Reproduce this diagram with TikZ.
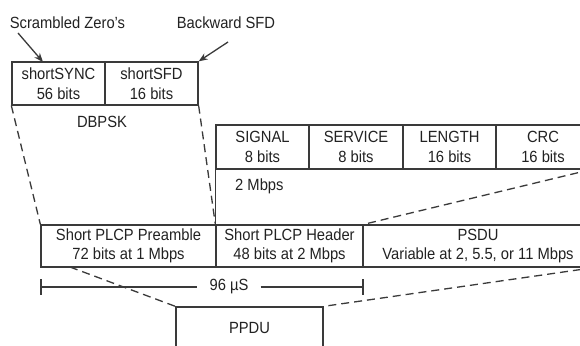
\documentclass[tikz,border=0pt]{standalone}
\usepackage{fontspec}
\setmainfont{Liberation Sans}[FakeStretch=0.91]
\usetikzlibrary{arrows.meta}
\definecolor{trait}{HTML}{3A3A3A}
\definecolor{texte}{HTML}{222222}
\begin{document}
\begin{tikzpicture}[x=1pt,y=-1pt,
    cell/.style={draw=trait, line width=1.3pt, minimum height=43pt, inner sep=0pt,
      align=center, text=texte, font=\fontsize{16.2}{19.5}\selectfont},
    lbl/.style={text=texte, font=\fontsize{16.2}{18}\selectfont},
    ligne/.style={draw=trait, line width=1.3pt},
    pointille/.style={ligne, dash pattern=on 8pt off 5pt},
    fleche/.style={ligne, -{Stealth[length=9pt,width=7pt]}}]
        % Cadre
        \useasboundingbox (0,0) rectangle (580,345);
        \fill[white] (0,0) rectangle (580,345);
        \clip (0,0) rectangle (580,345);
        % Preambule court
        \node[cell, minimum width=93pt] (sync) at (58.5,83.5) {shortSYNC\\56 bits};
        \node[cell, minimum width=93pt] (sfd) at (151.5,83.5) {shortSFD\\16 bits};
        \node[lbl] (dbpsk) at (102,122) {DBPSK};
        % Etiquettes du haut
        \node[lbl] (scr) at (67.5,23) {Scrambled Zero's};
        \node[lbl] (bsfd) at (226,23) {Backward SFD};
        \coordinate (scrA) at (18,33);
        \coordinate (scrB) at (43,62);
        \coordinate (bsfdA) at (228,42);
        \draw[fleche] (scrA) -- (scrB);
        \draw[fleche] (bsfdA) -- (sfd.north east);
        % En-tete court
        \node[cell, minimum width=93pt, minimum height=44pt] (signal) at (262.5,147) {SIGNAL\\8 bits};
        \node[cell, minimum width=94pt, minimum height=44pt] (service) at (356,147) {SERVICE\\8 bits};
        \node[cell, minimum width=93pt, minimum height=44pt] (length) at (449.5,147) {LENGTH\\16 bits};
        \node[cell, minimum width=94pt, minimum height=44pt] (crc) at (543,147) {CRC\\16 bits};
        \node[lbl, anchor=west, inner sep=0pt] (rate) at (235,186) {2 Mbps};
        % Trame PLCP
        \node[cell, minimum width=175pt, minimum height=42pt] (pre) at (128.5,246) {Short PLCP Preamble\\72 bits at 1 Mbps};
        \node[cell, minimum width=147pt, minimum height=42pt] (hdr) at (289.5,246) {Short PLCP Header\\48 bits at 2 Mbps};
        \node[cell, minimum width=230pt, minimum height=42pt] (psdu) at (478,246) {PSDU\\Variable at 2, 5.5, or 11 Mbps};
        % Duree
        \coordinate (durL) at (41,287);
        \coordinate (durR) at (363,287);
        \node[lbl, inner xsep=12pt] (dur) at (229,287) {96 µS};
        \draw[ligne] ([yshift=8pt]durL) -- ([yshift=-8pt]durL);
        \draw[ligne] ([yshift=8pt]durR) -- ([yshift=-8pt]durR);
        \draw[ligne] (durL) -- (dur.west);
        \draw[ligne] (dur.east) -- (durR);
        % PPDU
        \node[cell, minimum width=147pt, minimum height=42pt] (ppdu) at (249.5,328) {PPDU};
        % Lignes de rappel
        \coordinate (preB) at (70,267);
        \draw[pointille] (sync.south west) -- (pre.north west);
        \draw[pointille] (sfd.south east) -- (hdr.north west);
        \draw[ligne] (signal.south west) -- (hdr.north west);
        \draw[pointille] (crc.south east) -- (hdr.north east);
        \draw[pointille] (preB) -- (ppdu.north west);
        \draw[pointille] (psdu.south east) -- (ppdu.north east);
    \end{tikzpicture}
\end{document}
